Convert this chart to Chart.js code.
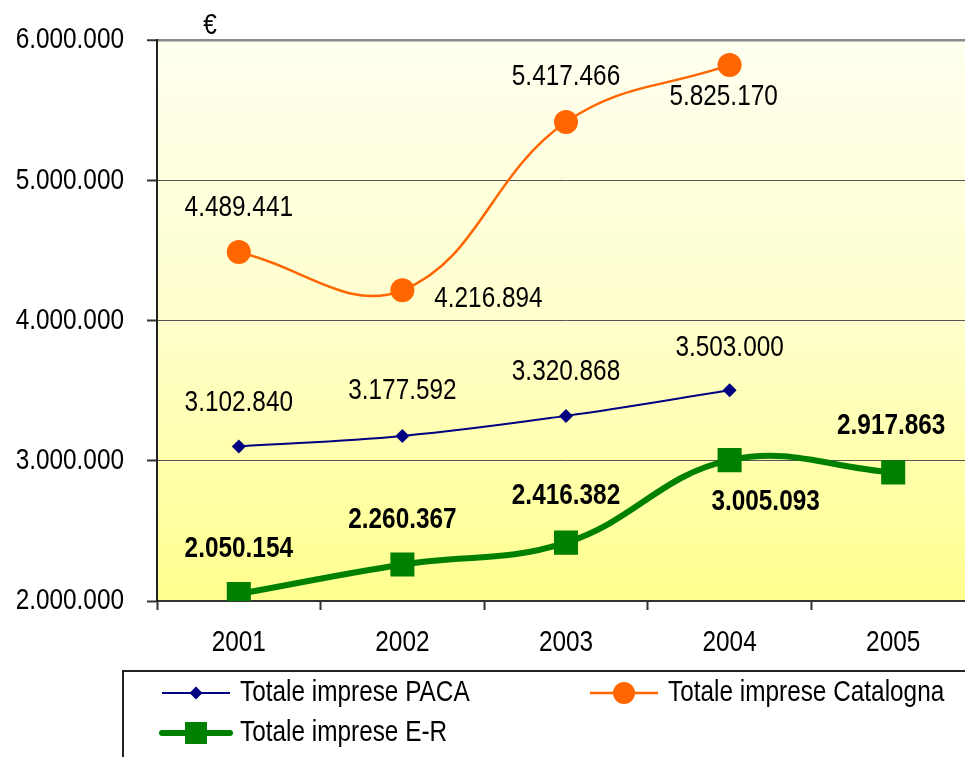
<!DOCTYPE html>
<html>
<head>
<meta charset="utf-8">
<script src="https://cdn.jsdelivr.net/npm/chart.js@4/dist/chart.umd.min.js"></script>
<style>
  html, body { margin: 0; padding: 0; background: #ffffff; overflow: hidden; width: 965px; height: 757px; }
  #wrap { position: absolute; left: 0; top: 0; width: 992px; height: 757px; }
</style>
</head>
<body>
<div id="wrap"><canvas id="c" width="992" height="757"></canvas></div>
<script>
const categories = ['2001', '2002', '2003', '2004', '2005'];
const pacaValues = [3102840, 3177592, 3320868, 3503000, null];
const catalognaValues = [4489441, 4216894, 5417466, 5825170, null];
const erValues = [2050154, 2260367, 2416382, 3005093, 2917863];
const seriesNames = ['Totale imprese PACA', 'Totale imprese Catalogna', 'Totale imprese E-R'];
const yTicks = [2000000, 3000000, 4000000, 5000000, 6000000];

const FONT = "'Liberation Sans', Arial, sans-serif";
const fmt = v => String(v).replace(/\B(?=(\d{3})+(?!\d))/g, '.');

// label offsets (pixels) relative to each point
const labelOffsets = [
  [[0,-43],[0,-45],[0,-44],[0,-42],[0,0]],
  [[0,-44],[86,9],[0,-45],[-6,32],[0,0]],
  [[0,-45],[0,-45],[0,-47],[36,42],[-2,-46]]
];

// emulate a narrow (condensed) typeface, as in the original
const canvas = document.getElementById('c');
const ctx2d = canvas.getContext('2d');
const SX = 0.84;
const origFill = ctx2d.fillText.bind(ctx2d);
const origMeasure = ctx2d.measureText.bind(ctx2d);
ctx2d.fillText = function (t, x, y) {
  this.save();
  this.translate(x, y);
  this.scale(SX, 1);
  origFill(t, 0, 0);
  this.restore();
};
ctx2d.measureText = function (t) {
  const m = origMeasure(t);
  return {
    width: m.width * SX,
    actualBoundingBoxAscent: m.actualBoundingBoxAscent,
    actualBoundingBoxDescent: m.actualBoundingBoxDescent,
    actualBoundingBoxLeft: m.actualBoundingBoxLeft * SX,
    actualBoundingBoxRight: m.actualBoundingBoxRight * SX
  };
};

const bgPlugin = {
  id: 'bg',
  beforeDraw(chart) {
    const {ctx, chartArea: a} = chart;
    const g = ctx.createLinearGradient(0, a.top, 0, a.bottom);
    g.addColorStop(0, '#FFFFF0');
    g.addColorStop(0.5, '#FFFFCC');
    g.addColorStop(1, '#FFFF8E');
    ctx.save();
    ctx.fillStyle = g;
    ctx.fillRect(a.left, a.top, a.right - a.left, a.bottom - a.top);
    ctx.restore();
  }
};

const labelPlugin = {
  id: 'vlabels',
  afterDatasetsDraw(chart) {
    const ctx = chart.ctx;
    ctx.save();
    ctx.textAlign = 'center';
    ctx.textBaseline = 'middle';
    ctx.fillStyle = '#000';
    chart.data.datasets.forEach((ds, di) => {
      const meta = chart.getDatasetMeta(di);
      ctx.font = (di === 2 ? 'bold ' : '') + '29px ' + FONT;
      meta.data.forEach((pt, i) => {
        const v = ds.data[i];
        if (v == null) return;
        const off = labelOffsets[di][i];
        ctx.fillText(fmt(v), pt.x + off[0], pt.y + off[1]);
      });
    });
    // euro sign
    const a = chart.chartArea;
    ctx.font = '29px ' + FONT;
    ctx.fillText('€', a.left + 53, a.top - 14);
    ctx.restore();
  }
};

const legendPlugin = {
  id: 'customLegend',
  afterDraw(chart) {
    const ctx = chart.ctx;
    ctx.save();
    ctx.strokeStyle = '#222';
    ctx.lineWidth = 2;
    ctx.strokeRect(123, 671, 900, 120);
    const items = [
      {x: 162, y: 693, ds: 0},
      {x: 590, y: 693, ds: 1},
      {x: 162, y: 733, ds: 2}
    ];
    items.forEach(it => {
      const ds = chart.data.datasets[it.ds];
      ctx.strokeStyle = ds.borderColor;
      ctx.lineWidth = ds.borderWidth;
      ctx.lineCap = it.ds === 2 ? 'round' : 'butt';
      ctx.beginPath();
      ctx.moveTo(it.x, it.y);
      ctx.lineTo(it.x + 68, it.y);
      ctx.stroke();
      const cx = it.x + 34;
      ctx.fillStyle = ds.pointBackgroundColor;
      ctx.beginPath();
      if (ds.pointStyle === 'rectRot') {
        const r = 6.5;
        ctx.moveTo(cx, it.y - r); ctx.lineTo(cx + r, it.y); ctx.lineTo(cx, it.y + r); ctx.lineTo(cx - r, it.y);
        ctx.closePath();
      } else if (ds.pointStyle === 'circle') {
        ctx.arc(cx, it.y, 11, 0, Math.PI * 2);
      } else {
        ctx.rect(cx - 11, it.y - 11, 22, 22);
      }
      ctx.fill();
      ctx.fillStyle = '#000';
      ctx.font = '29px ' + FONT;
      ctx.textAlign = 'left';
      ctx.textBaseline = 'middle';
      ctx.fillText(ds.label, it.x + 78, it.y);
    });
    ctx.restore();
  }
};

new Chart(canvas, {
  type: 'line',
  data: {
    labels: categories,
    datasets: [
      {
        label: seriesNames[0], data: pacaValues,
        borderColor: '#000080', backgroundColor: '#000080', borderWidth: 2,
        pointStyle: 'rectRot', pointRadius: 7, pointBackgroundColor: '#000080', pointBorderWidth: 0,
        tension: 0.4, spanGaps: false
      },
      {
        label: seriesNames[1], data: catalognaValues,
        borderColor: '#FF6600', backgroundColor: '#FF6600', borderWidth: 2.5,
        pointStyle: 'circle', pointRadius: 12, pointBackgroundColor: '#FF6600', pointBorderWidth: 0,
        tension: 0.4
      },
      {
        label: seriesNames[2], data: erValues,
        borderColor: '#008000', backgroundColor: '#008000', borderWidth: 6,
        pointStyle: 'rect', pointRadius: 17, pointBackgroundColor: '#008000', pointBorderWidth: 0,
        tension: 0.4
      }
    ]
  },
  options: {
    responsive: false,
    animation: false,
    devicePixelRatio: 1,
    layout: { padding: { left: 0, top: 38, right: 12, bottom: 0 } },
    plugins: { legend: { display: false }, tooltip: { enabled: false } },
    scales: {
      x: {
        offset: true,
        afterFit(s) { s.height = 156; },
        grid: { offset: true, drawOnChartArea: false, drawTicks: true, tickLength: 9, tickColor: '#333', tickWidth: 2 },
        border: { color: '#333', width: 2 },
        ticks: { color: '#000', font: { family: FONT, size: 29 }, padding: 16 }
      },
      y: {
        min: 2000000, max: 6000000,
        afterFit(s) { s.width = 157; },
        afterBuildTicks(s) { s.ticks = yTicks.map(v => ({value: v})); },
        grid: {
          color: ctx => (ctx.tick && ctx.tick.value === 6000000) ? '#8a8a8a' : '#555',
          lineWidth: ctx => (ctx.tick && ctx.tick.value === 6000000) ? 2.5 : 1,
          tickLength: 10, tickColor: '#333', tickWidth: 2
        },
        border: { color: '#222', width: 2 },
        ticks: { color: '#000', font: { family: FONT, size: 29 }, padding: 23, callback: v => fmt(v) }
      }
    }
  },
  plugins: [bgPlugin, labelPlugin, legendPlugin]
});
</script>
</body>
</html>
